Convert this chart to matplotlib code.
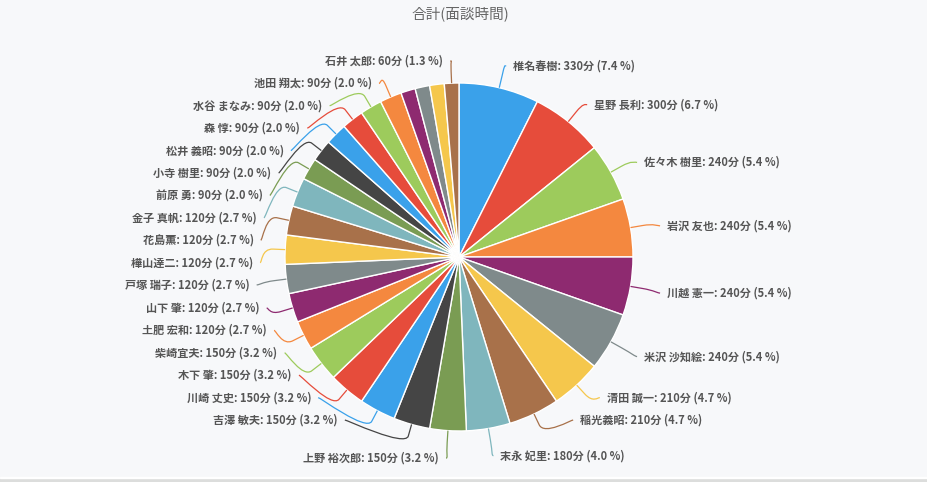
import numpy as np
import matplotlib.pyplot as plt
from matplotlib.path import Path
from matplotlib.patches import PathPatch

plt.rcParams['font.family'] = ['Noto Sans CJK JP', 'DejaVu Sans']

# data (slices clockwise from 12 o'clock)
names = ['椎名春樹', '星野 長利', '佐々木 樹里', '岩沢 友也', '川越 憲一', '米沢 沙知絵',
         '清田 誠一', '稲光義昭', '末永 妃里', '上野 裕次郎', '吉澤 敏夫', '川崎 丈史',
         '木下 肇', '柴崎宜夫', '土肥 宏和', '山下 肇', '戸塚 瑞子', '樺山達二', '花島薫',
         '金子 真帆', '前原 勇', '小寺 樹里', '松井 義昭', '森 惇', '水谷 まなみ',
         '池田 翔太', '', '', '', '石井 太郎']
minutes = [330, 300, 240, 240, 240, 240, 210, 210, 180, 150, 150, 150, 150, 150,
           120, 120, 120, 120, 120, 120, 90, 90, 90, 90, 90, 90, 60, 60, 60, 60]
pct_text = ['7.4', '6.7', '5.4', '5.4', '5.4', '5.4', '4.7', '4.7', '4.0',
            '3.2', '3.2', '3.2', '3.2', '3.2',
            '2.7', '2.7', '2.7', '2.7', '2.7', '2.7',
            '2.0', '2.0', '2.0', '2.0', '2.0', '2.0', '', '', '', '1.3']
title = '合計(面談時間)'

palette = ['#3aa1ea', '#e64c3b', '#9dcb5c', '#f4883f', '#8e2a70', '#7f8a8b',
           '#f5c74c', '#a8714a', '#7fb6bd', '#7a9c53', '#454545']
colors = [palette[i % len(palette)] for i in range(len(minutes))]

W, H = 928, 482
cx, cy, r = 459, 257, 174      # pie centre / radius in image pixels (y down)
rx_nat, ry_nat = 204, 199      # label radius, unmoved labels
rd_mov = 199                   # label radius, shifted labels
step = 22.4                    # label line spacing
top, low = 61, 420             # band for the stacked labels
last_max = 460                 # lowest label sits below the band

fig = plt.figure(figsize=(W / 100, H / 100), dpi=100, facecolor='#f7f8fa')
ax = fig.add_axes([0, 0, 1, 1])
ax.set_facecolor('#f7f8fa')

ax.pie(minutes, colors=colors, startangle=90, counterclock=False,
       center=(cx, H - cy), radius=r, frame=True,
       wedgeprops=dict(edgecolor='white', linewidth=1))

vals = np.array(minutes, dtype=float)
frac = (np.cumsum(vals) - vals / 2) / vals.sum()
theta = frac * 2 * np.pi
nat_x = cx + rx_nat * np.sin(theta)
nat_y = cy + 2.5 - ry_nat * np.cos(theta)


def spread(ts, lo, hi, h):
    # keep order, merge overlapping groups, centre each group on its targets
    groups = [[t] for t in ts]

    def place(g):
        s = (min(g) + max(g)) / 2 - (len(g) - 1) * h / 2
        return min(max(s, lo), hi - (len(g) - 1) * h)

    merged = True
    while merged:
        merged = False
        starts = [place(g) for g in groups]
        for k in range(len(groups) - 1):
            if starts[k] + len(groups[k]) * h > starts[k + 1] + 0.01:
                groups[k] = groups[k] + groups[k + 1]
                del groups[k + 1]
                merged = True
                break
    out = []
    for g in groups:
        s = place(g)
        out += [s + k * h for k in range(len(g))]
    return out


label_y = {}
for side in (True, False):
    idx = [i for i in range(len(names)) if names[i] and (np.sin(theta[i]) >= 0) == side]
    idx.sort(key=lambda i: nat_y[i])
    ys = spread([nat_y[i] for i in idx[:-1]], top, low, step)
    ys.append(min(nat_y[idx[-1]], last_max))
    for i, y in zip(idx, ys):
        label_y[i] = y

for i, y in label_y.items():
    right = np.sin(theta[i]) >= 0
    sgn = 1 if right else -1
    if abs(y - nat_y[i]) < 8:
        ax_x = nat_x[i]
    else:
        dy = min(abs(y - cy), rd_mov)
        ax_x = cx + sgn * np.sqrt(rd_mov ** 2 - dy ** 2)
    # connector: label end -> break point -> slice edge
    tx, ty = cx + r * np.sin(theta[i]), cy - r * np.cos(theta[i])
    bx, by = cx + (r + 12) * np.sin(theta[i]), cy - (r + 12) * np.cos(theta[i])
    pts = [(ax_x, y), (ax_x - sgn * 2, y), (2 * bx - tx, 2 * by - ty), (bx, by), (tx, ty)]
    pts = [(px, H - py) for px, py in pts]
    path = Path(pts, [Path.MOVETO, Path.CURVE4, Path.CURVE4, Path.CURVE4, Path.LINETO])
    ax.add_patch(PathPatch(path, facecolor='none', edgecolor=colors[i], lw=0.9))
    ax.text(ax_x + sgn * 7, H - y, f'{names[i]}: {minutes[i]}分 ({pct_text[i]} %)',
            ha='left' if right else 'right', va='center', fontsize=8,
            fontweight='bold', color='#555555')

ax.text(W / 2 - 4, H - 14, title, ha='center', va='center', fontsize=10.5, color='#666666')
ax.axhspan(0, 4, color='#dcdddc')
ax.axhspan(4, 5, color='#ffffff')

ax.set_xlim(0, W)
ax.set_ylim(0, H)
ax.set_aspect('auto')
ax.axis('off')

fig.savefig('out.png', dpi=100, facecolor=fig.get_facecolor())
